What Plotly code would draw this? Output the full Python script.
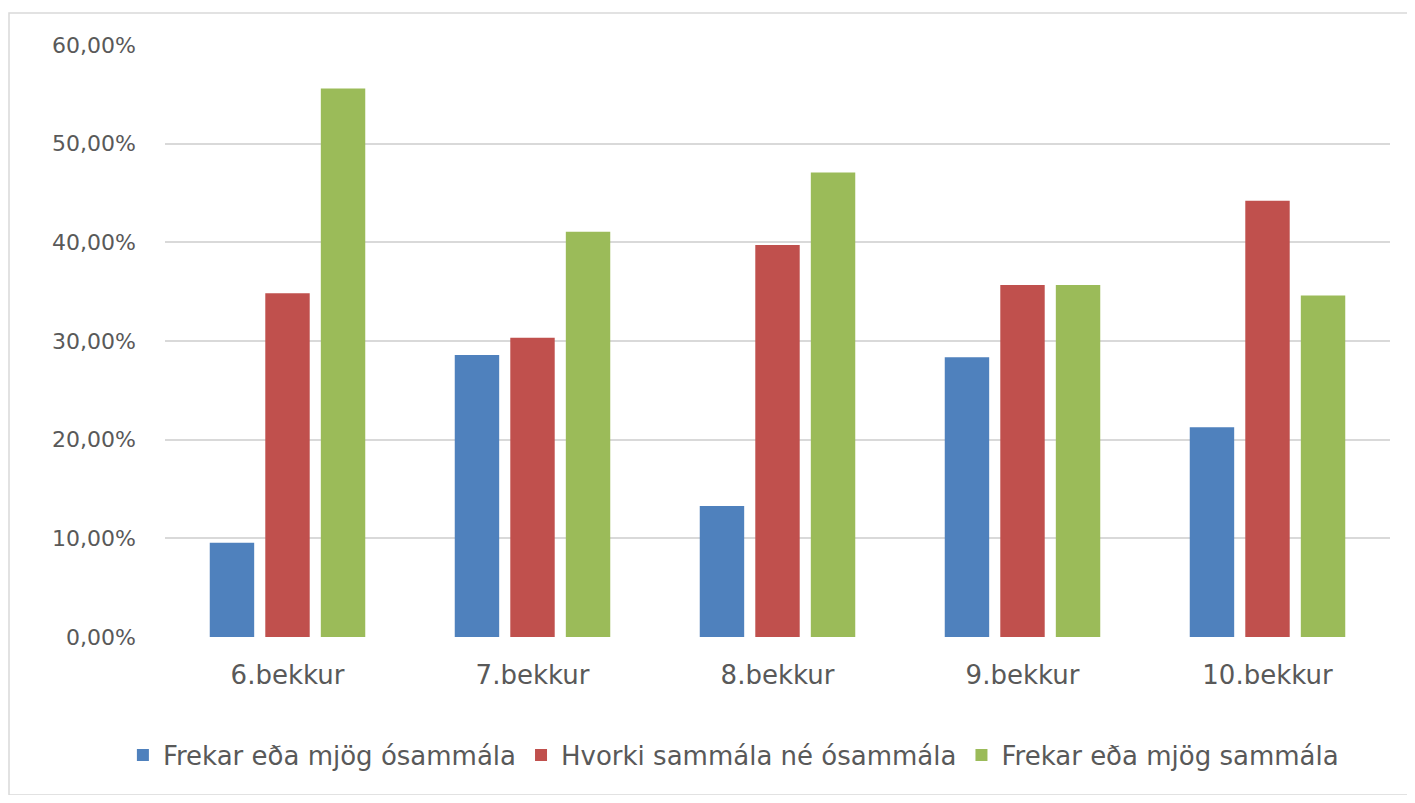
import plotly.graph_objects as go

categories = ["6.bekkur", "7.bekkur", "8.bekkur", "9.bekkur", "10.bekkur"]
series_names = ["Frekar eða mjög ósammála", "Hvorki sammála né ósammála", "Frekar eða mjög sammála"]
osammala = [0.0956, 0.2858, 0.1328, 0.2835, 0.2125]
hvorki = [0.3483, 0.3033, 0.3973, 0.3567, 0.4422]
sammala = [0.5560, 0.4108, 0.4708, 0.3567, 0.3460]
colors = ["#4F81BD", "#C0504D", "#9BBB59"]
tick_vals = [0, 0.1, 0.2, 0.3, 0.4, 0.5, 0.6]

fig = go.Figure()
for name, vals, col in zip(series_names, [osammala, hvorki, sammala], colors):
    fig.add_trace(go.Bar(x=categories, y=vals, name=name, marker=dict(color=col, line=dict(width=0))))

# page body has an 8px margin; figure spans x 8..1407, y 8..795
W, H = 1399, 787
L, R, T, B = 157, 17, 37, 158
pw, ph = W - L - R, H - T - B

font_family = "DejaVu Sans, Verdana, sans-serif"
fig.update_layout(
    width=W, height=H,
    margin=dict(l=L, r=R, t=T, b=B),
    paper_bgcolor="white", plot_bgcolor="white",
    separators=",.",
    barmode="group", bargap=0.32, bargroupgap=0.2,
    font=dict(family=font_family, size=22, color="#595959"),
    showlegend=True,
    legend=dict(orientation="h", x=0.464, xanchor="center", y=-0.16, yanchor="top",
                font=dict(size=26, color="#595959"), traceorder="normal",
                tracegroupgap=0, itemwidth=30),
    xaxis=dict(showgrid=False, showline=False, ticks="", ticklabelstandoff=20,
               tickfont=dict(size=26, color="#595959")),
    yaxis=dict(range=[0, 0.6], tickvals=tick_vals, tickformat=".2%", showgrid=True,
               gridcolor="#D9D9D9", gridwidth=1.5, zeroline=False, showline=False,
               ticks="", ticklabelstandoff=28, tickfont=dict(size=22, color="#595959")),
    shapes=[dict(type="rect", xref="paper", yref="paper",
                 x0=(9 - 8 - L) / pw, x1=(1410 - 8 - L) / pw,
                 y0=-(795 - 8 - T - ph) / ph, y1=1 + (T - (5 - 8 + 8)) / ph,
                 line=dict(color="#D9D9D9", width=1.5), fillcolor="rgba(0,0,0,0)", layer="below")],
)

fig.write_html("out.html")
